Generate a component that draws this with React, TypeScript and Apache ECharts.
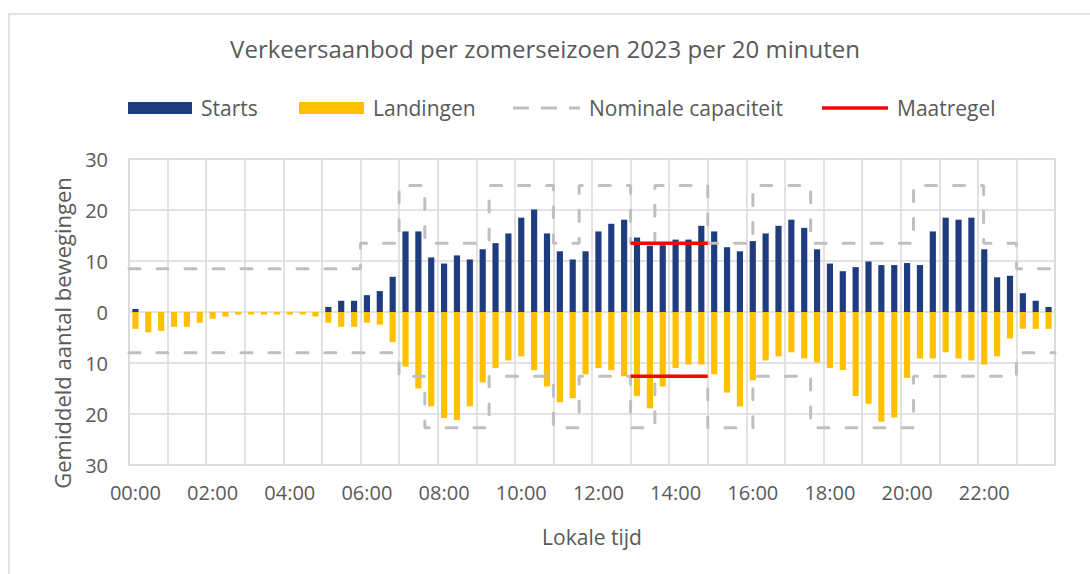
import React, { useEffect, useRef } from "react";
import * as echarts from "echarts";

const FONT = "'Open Sans', 'Noto Sans', sans-serif";
const TEXT = "#595959";

// 72 twenty-minute slots
const timeCategories: string[] = Array.from({ length: 72 }, (_, i) => {
  const m = i * 20;
  const h = Math.floor(m / 60);
  const mm = m % 60;
  return `${String(h).padStart(2, "0")}:${String(mm).padStart(2, "0")}`;
});

const starts = [
  0.6, 0, 0, 0, 0, 0, 0, 0, 0, 0, 0, 0, 0, 0, 0, 1.0, 2.2, 2.2,
  3.3, 4.1, 6.9, 15.8, 15.8, 10.7, 9.5, 11.1, 10.3, 12.3, 13.5, 15.4,
  18.5, 20.1, 15.4, 11.9, 10.3, 11.9, 15.8, 17.3, 18.1, 14.6, 13.0, 13.1,
  14.2, 14.2, 16.9, 15.8, 12.7, 11.9, 13.9, 15.4, 16.9, 18.1, 16.5, 12.3,
  9.5, 8.0, 8.8, 9.9, 9.2, 9.2, 9.6, 9.2, 15.8, 18.5, 18.1, 18.5,
  12.3, 6.8, 7.1, 3.7, 2.2, 1.0,
];

const landingen = [
  -3.3, -4.0, -3.7, -2.9, -2.9, -2.1, -1.3, -0.9, -0.5, -0.5, -0.5, -0.5,
  -0.5, -0.5, -0.9, -2.1, -2.9, -2.9, -2.1, -2.5, -5.9, -10.7, -15.0, -18.5,
  -20.8, -21.2, -18.5, -13.8, -11.0, -9.5, -8.7, -11.4, -14.6, -17.7, -16.9, -12.2,
  -11.0, -11.4, -12.6, -16.5, -18.9, -14.6, -11.0, -10.3, -10.3, -12.2, -15.8, -18.5,
  -13.4, -9.5, -8.7, -7.9, -9.1, -9.9, -11.0, -11.4, -16.5, -18.0, -21.5, -20.7,
  -12.9, -9.1, -9.1, -7.9, -9.1, -9.5, -10.3, -8.7, -5.2, -3.3, -3.3, -3.3,
];

// Nominal capacity step lines: [hour, value]
const nominalStarts: [number, number][] = [
  [0, 8.5], [6, 8.5], [6, 13.5], [7, 13.5], [7, 24.8], [7.667, 24.8], [7.667, 13.5],
  [9.333, 13.5], [9.333, 24.8], [11, 24.8], [11, 13.5], [11.667, 13.5], [11.667, 24.8],
  [13, 24.8], [13, 13.5], [13.63, 13.5], [13.63, 24.8], [15, 24.8], [15, 13.5],
  [16.17, 13.5], [16.17, 24.8], [17.667, 24.8], [17.667, 13.5], [20.333, 13.5],
  [20.333, 24.8], [22.15, 24.8], [22.15, 13.5], [23, 13.5], [23, 8.5], [24, 8.5],
];
const nominalLandingen: [number, number][] = [
  [0, -8], [7, -8], [7, -12.6], [7.667, -12.6], [7.667, -22.7], [9.333, -22.7], [9.333, -12.6],
  [11, -12.6], [11, -22.7], [11.667, -22.7], [11.667, -12.6], [13, -12.6], [13, -22.7],
  [13.63, -22.7], [13.63, -12.6], [15, -12.6], [15, -22.7], [16.17, -22.7], [16.17, -12.6],
  [17.667, -12.6], [17.667, -22.7], [20.333, -22.7], [20.333, -12.6], [23, -12.6],
  [23, -8], [24, -8],
];
const maatregelStarts: [number, number][] = [[13, 13.5], [15, 13.5]];
const maatregelLandingen: [number, number][] = [[13, -12.6], [15, -12.6]];

const GREY_DASH = "#BFBFBF";
const RED = "#FF0000";

export default function App() {
  const ref = useRef<HTMLDivElement>(null);

  useEffect(() => {
    if (!ref.current) return;
    const chart = echarts.init(ref.current, undefined, { renderer: "svg" });
    const dash = { color: GREY_DASH, width: 3, type: [11, 17] as number[], cap: "round" as const };
    const red = { color: RED, width: 3.5 };
    const textStyle = { color: TEXT, fontSize: 21, fontFamily: FONT, lineHeight: 24, padding: [0, 0, 0, 4] };
    chart.setOption({
      animation: false,
      backgroundColor: "#ffffff",
      title: {
        text: "Verkeersaanbod per zomerseizoen 2023 per 20 minuten",
        left: "center",
        top: 34,
        padding: 0,
        textStyle: { color: TEXT, fontSize: 24, fontWeight: "normal", fontFamily: FONT, lineHeight: 28 },
      },
      legend: [
        { top: 96, padding: 0, itemWidth: 64, itemHeight: 12, textStyle, left: 128, data: [{ name: "Starts", icon: "rect" }] },
        { top: 96, padding: 0, itemWidth: 65, itemHeight: 12, textStyle, left: 299, data: [{ name: "Landingen", icon: "rect" }] },
        {
          top: 96, padding: 0, itemWidth: 67, itemHeight: 3, textStyle, left: 513,
          data: [{ name: "Nominale capaciteit", icon: "path://M0,0h16v3h-16z M28,0h16v3h-16z M56,0h11v3h-11z" }],
        },
        {
          top: 96, padding: 0, itemWidth: 66, itemHeight: 3.5, textStyle, left: 822,
          data: [{ name: "Maatregel", icon: "rect" }],
        },
      ],
      grid: {
        left: 129,
        right: 35,
        top: 159,
        bottom: 109,
        show: true,
        borderColor: "#d9d9d9",
        borderWidth: 1.5,
        containLabel: false,
      },
      xAxis: [
        {
          type: "category",
          data: timeCategories,
          boundaryGap: true,
          axisLine: { show: false, onZero: false },
          axisTick: { show: false },
          axisLabel: { interval: 5, color: TEXT, fontSize: 20, fontFamily: FONT, margin: 17 },
          splitLine: { show: true, interval: 2, lineStyle: { color: "#d9d9d9", width: 1.5 } },
        },
        { type: "value", min: 0, max: 24, show: false },
      ],
      yAxis: {
        type: "value",
        min: -30,
        max: 30,
        interval: 10,
        axisLine: { show: false },
        axisTick: { show: false },
        axisLabel: {
          color: TEXT,
          fontSize: 20,
          fontFamily: FONT,
          margin: 21,
          formatter: (v: number) => String(Math.abs(v)),
        },
        splitLine: { lineStyle: { color: "#d9d9d9", width: 1.5 } },
      },
      graphic: [
        {
          type: "rect",
          shape: { x: 9, y: 14, width: 1200, height: 700 },
          style: { fill: "none", stroke: "#d9d9d9", lineWidth: 1.5 },
          silent: true,
        },
        {
          type: "text",
          x: 62,
          y: 333,
          rotation: Math.PI / 2,
          style: {
            text: "Gemiddeld aantal bewegingen",
            fill: TEXT,
            font: `22px ${FONT}`,
            align: "center",
            verticalAlign: "middle",
          },
        },
        {
          type: "text",
          x: 592,
          y: 537,
          style: {
            text: "Lokale tijd",
            fill: TEXT,
            font: `21px ${FONT}`,
            align: "center",
            verticalAlign: "middle",
          },
        },
      ],
      series: [
        {
          name: "Starts",
          type: "bar",
          stack: "total",
          data: starts,
          barWidth: "48%",
          itemStyle: { color: "#1F3C7E" },
        },
        {
          name: "Landingen",
          type: "bar",
          stack: "total",
          data: landingen,
          barWidth: "48%",
          itemStyle: { color: "#FFC000" },
        },
        {
          name: "Nominale capaciteit",
          type: "line",
          xAxisIndex: 1,
          data: nominalStarts,
          symbol: "none",
          itemStyle: { color: GREY_DASH },
          lineStyle: dash,
          z: 4,
        },
        {
          name: "Nominale capaciteit",
          type: "line",
          xAxisIndex: 1,
          data: nominalLandingen,
          symbol: "none",
          itemStyle: { color: GREY_DASH },
          lineStyle: dash,
          z: 4,
        },
        {
          name: "Maatregel",
          type: "line",
          xAxisIndex: 1,
          data: maatregelStarts,
          symbol: "none",
          itemStyle: { color: RED },
          lineStyle: red,
          z: 5,
        },
        {
          name: "Maatregel",
          type: "line",
          xAxisIndex: 1,
          data: maatregelLandingen,
          symbol: "none",
          itemStyle: { color: RED },
          lineStyle: red,
          z: 5,
        },
      ],
    });
    return () => chart.dispose();
  }, []);

  return (
    <div
      ref={ref}
      style={{ position: "fixed", left: 0, top: 0, width: 1090, height: 574, background: "#fff" }}
    />
  );
}
